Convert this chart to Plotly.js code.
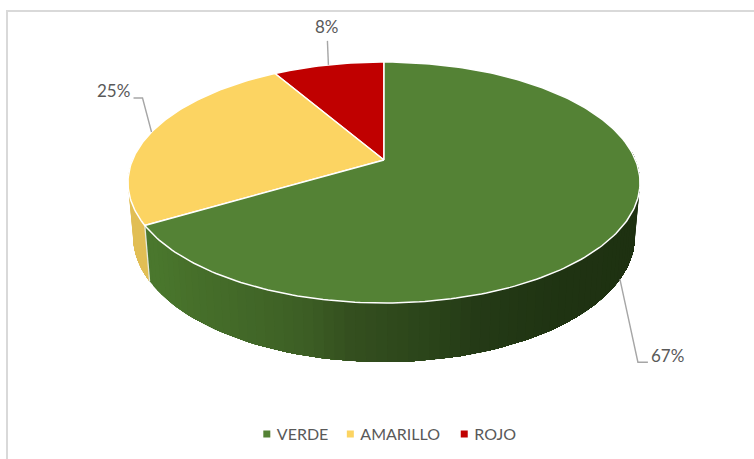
<!DOCTYPE html>
<html><head><meta charset="utf-8">
<script src="https://cdn.plot.ly/plotly-3.0.1.min.js"></script>
<style>html,body{margin:0;padding:0;background:#fff}</style>
</head><body><div id="chart" style="width:754px;height:459px"></div>
<script>
// Data
var categories = ["VERDE", "AMARILLO", "ROJO"];
var values = [66.5, 25.1, 8.4];
var topColors = ["#548235", "#FCD462", "#C00000"];

// Drawing order round the pie, counter-clockwise from 12 o'clock
var sliceOrder = [2, 1, 0];

// Projection of the tilted disc
var cx = 384, cy = 160, A = 251.5, B = 116.3, K = 0.1867;
function rim(deg) {
  var a = deg * Math.PI / 180, u = -Math.sin(a), v = Math.cos(a), w = 1 / (1 + K * v);
  return [cx + A * u * w, cy - B * v * w];
}
function lower(p) {
  return [384 + (p[0] - 384) * 0.98, p[1] + 54 + 5 * (p[1] - 182) / 121];
}
function hex(c) { return [parseInt(c.substr(1,2),16), parseInt(c.substr(3,2),16), parseInt(c.substr(5,2),16)]; }
var greenStops = [[150,"#4A772D"],[190,"#466F2A"],[240,"#426828"],[300,"#3C5E24"],[345,"#344F1F"],[420,"#2B451A"],[473,"#243A16"],[560,"#1F3312"],[640,"#1E3111"]];
function sideColor(sl, x) {
  if (sl === 1) return "#E1BE55";
  for (var i = 0; i < greenStops.length - 1; i++) {
    var s0 = greenStops[i], s1 = greenStops[i+1];
    if (x <= s1[0]) {
      var t = Math.max(0, (x - s0[0]) / (s1[0] - s0[0])), a = hex(s0[1]), b = hex(s1[1]);
      return "rgb(" + a.map(function(q, j){ return Math.round(q + (b[j]-q)*t); }).join(",") + ")";
    }
  }
  return greenStops[greenStops.length-1][1];
}

var total = values[0] + values[1] + values[2];
var angles = {}, start = 0;
sliceOrder.forEach(function(i){ var d = values[i] / total * 360; angles[i] = [start, start + d]; start += d; });

var traces = [];
// Side wall: each layer covers from its own angle to the end of the wall,
// so the shading steps have no seams between them
function wall(sl, a0, a1) {
  for (var d = a0; d < a1 - 1e-6; d += 2) {
    var xs = [], ys = [], lx = [], ly = [];
    for (var e = d; e < a1; e += 2) { var p = rim(e), l = lower(p); xs.push(p[0]); ys.push(p[1]); lx.unshift(l[0]); ly.unshift(l[1]); }
    var pe = rim(a1), le = lower(pe);
    xs.push(pe[0], le[0]); ys.push(pe[1], le[1]);
    var col = sideColor(sl, rim(d)[0]);
    traces.push({type:"scatter", mode:"lines", x:xs.concat(lx), y:ys.concat(ly),
      fill:"toself", fillcolor:col, line:{width:0}, showlegend:false, hoverinfo:"skip"});
  }
}
wall(1, 85, angles[1][1]);
wall(0, angles[0][0], 275);
// Light seam between the walls
var seamTop = rim(angles[0][0]), seamLow = lower(seamTop);
traces.push({type:"scatter", mode:"lines", x:[seamTop[0],seamLow[0]], y:[seamTop[1],seamLow[1]],
  line:{color:"#E4E9DC", width:1.3}, showlegend:false, hoverinfo:"skip"});

// Top faces
sliceOrder.forEach(function(i){
  var xs = [cx], ys = [cy];
  for (var d = angles[i][0]; d < angles[i][1]; d += 1) { var p = rim(d); xs.push(p[0]); ys.push(p[1]); }
  var pe = rim(angles[i][1]); xs.push(pe[0], cx); ys.push(pe[1], cy);
  traces.push({type:"scatter", mode:"lines", x:xs, y:ys, fill:"toself", fillcolor:topColors[i],
    line:{color:"#FFFFFF", width:1.5}, showlegend:false, hoverinfo:"skip"});
});

// Leader lines and labels; elbow and label offsets from the anchor on the rim
var leaderOffset = {
  0: {low:true,  elbow:[[18,83],[28,83]], text:[29.5,76], anchor:"left"},
  1: {low:false, elbow:[[-9,-34],[-18,-34]], text:[-19.5,-42], anchor:"right"},
  2: {low:false, elbow:[[-1,-24]], text:[-1,-38], anchor:"center"}
};
var annotations = [];
[0,1,2].forEach(function(i){
  var mid = (angles[i][0] + angles[i][1]) / 2, p = rim(mid), o = leaderOffset[i];
  if (o.low) p = lower(p);
  var xs = [p[0]], ys = [p[1]];
  o.elbow.forEach(function(e){ xs.push(p[0]+e[0]); ys.push(p[1]+e[1]); });
  traces.push({type:"scatter", mode:"lines", x:xs, y:ys, line:{color:"#A6A6A6", width:1.4}, showlegend:false, hoverinfo:"skip"});
  annotations.push({x:p[0]+o.text[0], y:p[1]+o.text[1], xref:"x", yref:"y", showarrow:false,
    text:Math.round(values[i]/total*100)+"%", xanchor:o.anchor, yanchor:"middle",
    font:{family:"Lato, 'Open Sans', sans-serif", size:17, color:"#595959"}});
});

// Legend entries
categories.forEach(function(c, i){
  traces.push({type:"scatter", mode:"markers", name:c, x:[null], y:[null],
    marker:{symbol:"square", size:7, color:topColors[i]}, hoverinfo:"skip"});
});

var layout = {
  width:754, height:459, margin:{l:0,r:0,t:0,b:0}, paper_bgcolor:"#fff", plot_bgcolor:"#fff",
  xaxis:{range:[0,754], visible:false, fixedrange:true},
  yaxis:{range:[459,0], visible:false, fixedrange:true},
  annotations:annotations,
  legend:{orientation:"h", x:0.515, xanchor:"center", y:0.054, yanchor:"middle", itemwidth:30,
    font:{family:"Lato, 'Open Sans', sans-serif", size:16, color:"#595959"}, bgcolor:"rgba(0,0,0,0)"},
  shapes:[
    {type:"line", xref:"x", yref:"y", x0:6, x1:754, y0:11, y1:11, line:{color:"#D9D9D9", width:2}},
    {type:"line", xref:"x", yref:"y", x0:7, x1:7, y0:10, y1:459, line:{color:"#D9D9D9", width:2}}
  ]
};
Plotly.newPlot("chart", traces, layout, {displayModeBar:false, staticPlot:true}).then(function(gd){
  // Tighten the legend: swatches closer to their text, entries closer together
  var itemShift = [3, -10, -21];
  gd.querySelectorAll(".legend .traces").forEach(function(g, i){
    var m = /translate\(([-\d.]+),\s*([-\d.]+)\)/.exec(g.getAttribute("transform"));
    g.setAttribute("transform", "translate(" + (parseFloat(m[1]) + itemShift[i]) + "," + m[2] + ")");
    var pts = g.querySelector(".legendpoints");
    if (pts) pts.setAttribute("transform", "translate(10,0)");
  });
});
</script></body></html>
